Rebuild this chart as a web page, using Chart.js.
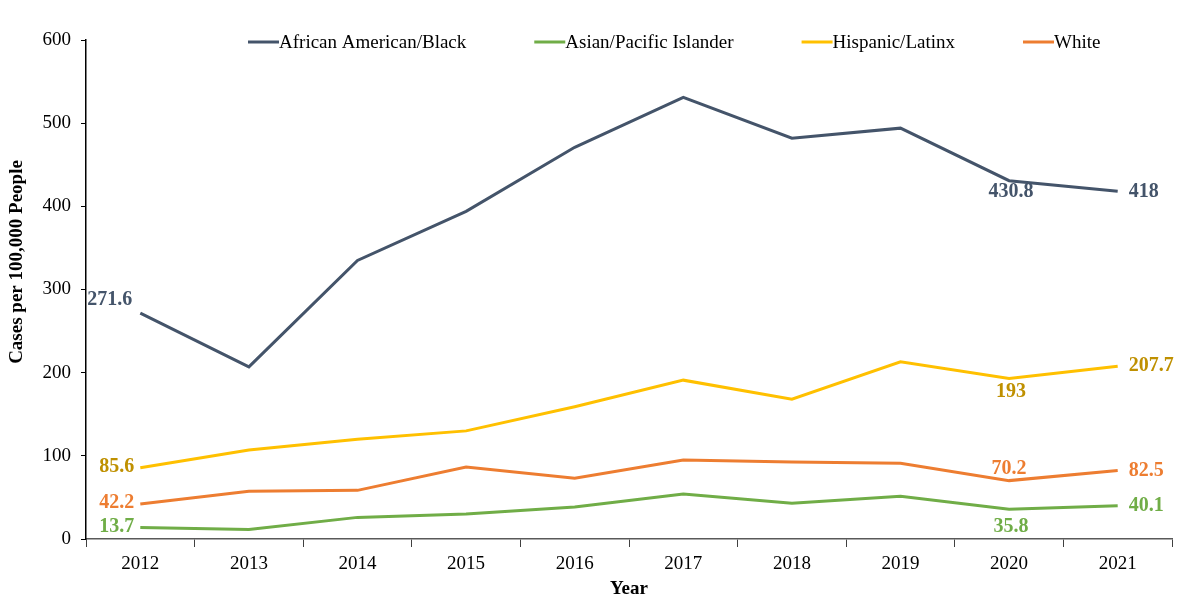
<!DOCTYPE html>
<html>
<head>
<meta charset="utf-8">
<script src="https://cdn.jsdelivr.net/npm/chart.js@4"></script>
<style>
  html, body { margin: 0; padding: 0; background: #fff; }
  #wrap { width: 1186px; height: 598px; }
</style>
</head>
<body>
<div id="wrap"><canvas id="myChart" width="1186" height="598"></canvas></div>
<script>
// data
const years = ['2012', '2013', '2014', '2015', '2016', '2017', '2018', '2019', '2020', '2021'];
const black    = [271.6, 207, 335, 394, 471, 531, 482, 494, 430.8, 418];
const asian    = [13.7, 11.5, 26, 30, 38.5, 54, 43, 51.5, 35.8, 40.1];
const hispanic = [85.6, 107, 120, 130, 159, 191, 168, 213, 193, 207.7];
const white    = [42.2, 57.5, 58.5, 86.5, 73, 95, 92.5, 91, 70.2, 82.5];
const yTicks = [0, 100, 200, 300, 400, 500, 600];

const SERIF = '"Liberation Serif", "Times New Roman", serif';

// which points get a value label and where it sits
const labelSpots = [
  { ds: 0, i: 0, pos: 'upleft', color: '#44546A' },
  { ds: 0, i: 8, pos: 'below', color: '#44546A' },
  { ds: 0, i: 9, pos: 'right', color: '#44546A' },
  { ds: 1, i: 0, pos: 'left', color: '#70AD47' },
  { ds: 1, i: 8, pos: 'below', color: '#70AD47', dy: 7 },
  { ds: 1, i: 9, pos: 'right', color: '#70AD47' },
  { ds: 2, i: 0, pos: 'left', color: '#BF9000' },
  { ds: 2, i: 8, pos: 'below', color: '#BF9000', dy: 2 },
  { ds: 2, i: 9, pos: 'right', color: '#BF9000' },
  { ds: 3, i: 0, pos: 'left', color: '#ED7D31' },
  { ds: 3, i: 8, pos: 'above', color: '#ED7D31', dy: 2 },
  { ds: 3, i: 9, pos: 'right', color: '#ED7D31' }
];

const valueLabels = {
  id: 'valueLabels',
  afterDatasetsDraw(chart) {
    const ctx = chart.ctx;
    ctx.save();
    ctx.font = 'bold 20px ' + SERIF;
    labelSpots.forEach(s => {
      const pt = chart.getDatasetMeta(s.ds).data[s.i];
      const v = chart.data.datasets[s.ds].data[s.i];
      ctx.fillStyle = s.color;
      let x = pt.x, y = pt.y + (s.dy || 0);
      if (s.pos === 'left') { ctx.textAlign = 'right'; ctx.textBaseline = 'middle'; x -= 6; y -= 1; }
      else if (s.pos === 'upleft') { ctx.textAlign = 'right'; ctx.textBaseline = 'middle'; x -= 8; y -= 13; }
      else if (s.pos === 'right') { ctx.textAlign = 'left'; ctx.textBaseline = 'middle'; x += 11; }
      else if (s.pos === 'below') { ctx.textAlign = 'center'; ctx.textBaseline = 'top'; x += 2; y += 1; }
      else { ctx.textAlign = 'center'; ctx.textBaseline = 'bottom'; y -= 4; }
      ctx.fillText(String(v), x, y);
    });
    ctx.restore();
  }
};

// legend inside the plot along the top, plus the y title placed like the original
const extras = {
  id: 'extras',
  afterDraw(chart) {
    const ctx = chart.ctx;
    ctx.save();
    ctx.font = '19px ' + SERIF;
    ctx.textBaseline = 'middle';
    ctx.textAlign = 'left';
    let x = 248;
    const y = 42;
    chart.data.datasets.forEach(ds => {
      ctx.strokeStyle = ds.borderColor;
      ctx.lineWidth = 3;
      ctx.beginPath();
      ctx.moveTo(x, y);
      ctx.lineTo(x + 31, y);
      ctx.stroke();
      ctx.fillStyle = '#000';
      ctx.fillText(ds.label, x + 31, y + 1);
      x += 31 + ctx.measureText(ds.label).width + 68;
    });

    ctx.translate(17, 262);
    ctx.rotate(-Math.PI / 2);
    ctx.textAlign = 'center';
    ctx.font = 'bold 19px ' + SERIF;
    ctx.fillText('Cases per 100,000 People', 0, 0);
    ctx.restore();
  }
};

var ctx = document.getElementById('myChart');
var myChart = new Chart(ctx, {
  type: 'line',
  data: {
    labels: years,
    datasets: [
      { label: 'African American/Black', data: black, borderColor: '#44546A' },
      { label: 'Asian/Pacific Islander', data: asian, borderColor: '#70AD47' },
      { label: 'Hispanic/Latinx', data: hispanic, borderColor: '#FFC000' },
      { label: 'White', data: white, borderColor: '#ED7D31' }
    ].map(d => Object.assign(d, {
      backgroundColor: d.borderColor,
      borderWidth: 3,
      pointRadius: 0,
      tension: 0,
      fill: false
    }))
  },
  options: {
    responsive: false,
    animation: false,
    layout: { padding: { top: 40, right: 14, bottom: 0, left: 0 } },
    plugins: {
      legend: { display: false },
      tooltip: { enabled: false }
    },
    scales: {
      x: {
        offset: true,
        afterFit(s) { s.height = 59; },
        grid: {
          offset: true,
          drawOnChartArea: false,
          tickLength: 8,
          color: '#404040'
        },
        border: { color: '#595959', width: 1.5 },
        ticks: { color: '#000', font: { family: SERIF, size: 19 }, padding: 6 },
        title: {
          display: true, text: 'Year', color: '#000',
          font: { family: SERIF, size: 19, weight: 'bold' }, padding: { top: 0, bottom: -2 }
        }
      },
      y: {
        min: 0,
        max: 600,
        afterFit(s) { s.width = 86; },
        afterBuildTicks(s) { s.ticks = yTicks.map(v => ({ value: v })); },
        grid: { drawOnChartArea: false, tickLength: 5, color: '#000' },
        border: { color: '#000', width: 1.5 },
        ticks: { color: '#000', font: { family: SERIF, size: 19 }, padding: 10 }
      }
    }
  },
  plugins: [valueLabels, extras]
});
</script>
</body>
</html>
